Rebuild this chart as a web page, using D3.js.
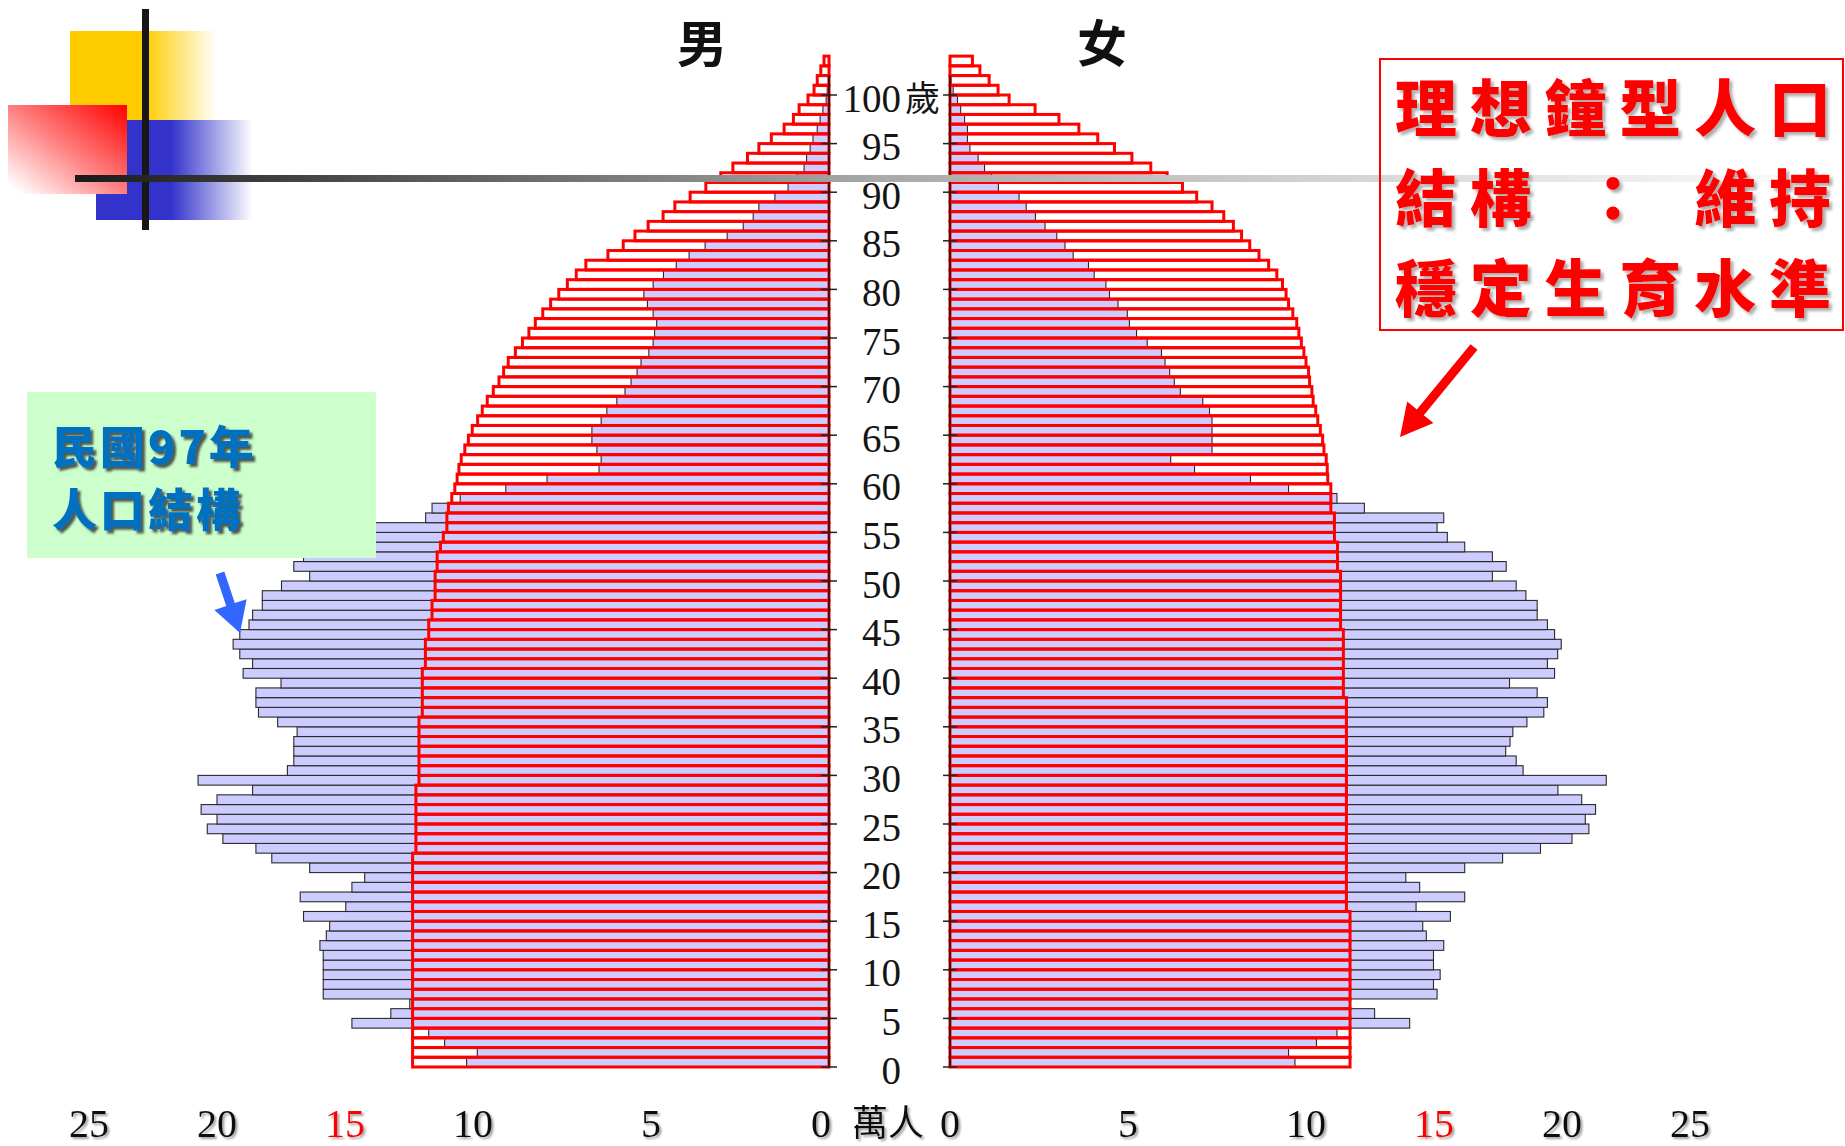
<!DOCTYPE html>
<html>
<head>
<meta charset="utf-8">
<script src="https://cdn.jsdelivr.net/npm/d3@7"></script>
<style>
  html, body { margin: 0; padding: 0; background: #ffffff; }
  svg { display: block; }
</style>
</head>
<body>
<svg id="chart" width="1845" height="1146"></svg>
<script>
// Single-year age groups, 0 .. 103
const ages = d3.range(0, 104);

// 民國97年 population by single year of age (萬人)
const maleActual = [
  10.25, 9.88, 11.11, 11.73, 14.73, 13.21, 12.47, 15.85, 15.85, 15.85,
  15.85, 15.85, 15.98, 15.73, 15.60, 16.62, 14.97, 16.75, 14.73, 14.23,
  16.38, 17.86, 18.48, 19.77, 20.38, 20.00, 20.62, 20.00, 18.61, 20.74,
  17.25, 17.00, 17.00, 17.00, 16.87, 17.63, 18.38, 18.48, 18.48, 17.50,
  18.98, 18.61, 19.11, 19.37, 19.11, 18.75, 18.61, 18.23, 18.23, 17.48,
  16.38, 17.00, 16.62, 15.36, 14.73, 14.37, 11.85, 11.60, 10.50, 9.08,
  7.92, 6.46, 6.40, 6.52, 6.66, 6.66, 6.40, 6.24, 5.96, 5.73,
  5.56, 5.39, 5.28, 5.06, 4.94, 4.90, 4.84, 4.94, 5.10, 5.20,
  4.94, 4.65, 4.29, 3.93, 3.48, 2.86, 2.41, 2.13, 1.97, 1.52,
  1.15, 0.89, 0.70, 0.63, 0.53, 0.45, 0.33, 0.25, 0.17, 0.08,
  0.05, 0.02, 0.01, 0
];
const femaleActual = [
  9.69, 9.51, 10.41, 11.21, 14.05, 12.68, 11.72, 15.12, 14.98, 15.24,
  14.98, 14.98, 15.38, 14.70, 14.56, 15.64, 14.30, 16.20, 14.44, 13.90,
  16.20, 17.68, 19.16, 20.39, 21.05, 20.91, 21.31, 20.77, 19.84, 21.73,
  18.48, 18.21, 17.80, 17.97, 18.08, 18.63, 19.29, 19.43, 19.03, 17.95,
  19.71, 19.43, 19.83, 19.97, 19.71, 19.43, 19.03, 19.03, 18.59, 18.21,
  17.28, 17.82, 17.28, 16.20, 15.52, 15.12, 15.38, 12.28, 11.21, 9.51,
  8.44, 6.87, 6.20, 7.36, 7.36, 7.36, 7.36, 7.29, 7.10, 6.47,
  6.30, 6.17, 6.04, 5.94, 5.54, 5.24, 5.04, 4.98, 4.72, 4.48,
  4.38, 4.05, 3.89, 3.46, 3.23, 3.00, 2.67, 2.40, 2.14, 1.94,
  1.36, 1.17, 0.97, 0.79, 0.56, 0.49, 0.49, 0.41, 0.30, 0.21,
  0.09, 0.03, 0.01, 0
];

// Ideal bell-shaped (stationary) population by single year of age (萬人)
const maleIdeal = [
  12.36, 12.36, 12.36, 12.36, 12.36, 12.36, 12.36, 12.36, 12.36, 12.36,
  12.36, 12.36, 12.36, 12.36, 12.36, 12.36, 12.36, 12.36, 12.36, 12.36,
  12.36, 12.36, 12.23, 12.23, 12.23, 12.23, 12.23, 12.23, 12.23, 12.11,
  12.11, 12.11, 12.11, 12.11, 12.11, 12.11, 11.98, 11.98, 11.98, 11.98,
  11.98, 11.86, 11.86, 11.86, 11.73, 11.73, 11.60, 11.60, 11.48, 11.48,
  11.48, 11.40, 11.40, 11.27, 11.16, 11.02, 11.02, 10.96, 10.83, 10.71,
  10.62, 10.55, 10.46, 10.32, 10.18, 10.03, 9.87, 9.74, 9.60, 9.43,
  9.27, 9.14, 9.01, 8.81, 8.61, 8.43, 8.25, 8.04, 7.82, 7.59,
  7.35, 7.10, 6.83, 6.21, 5.78, 5.45, 5.08, 4.66, 4.33, 3.90,
  3.46, 3.04, 2.70, 2.29, 1.97, 1.62, 1.26, 1.00, 0.84, 0.59,
  0.42, 0.33, 0.23, 0.14
];
const femaleIdeal = [
  11.72, 11.72, 11.72, 11.72, 11.72, 11.72, 11.72, 11.72, 11.72, 11.72,
  11.72, 11.72, 11.72, 11.72, 11.72, 11.72, 11.58, 11.58, 11.58, 11.58,
  11.58, 11.58, 11.58, 11.58, 11.58, 11.58, 11.58, 11.58, 11.58, 11.58,
  11.58, 11.58, 11.58, 11.58, 11.58, 11.58, 11.58, 11.58, 11.46, 11.46,
  11.46, 11.46, 11.46, 11.46, 11.46, 11.35, 11.35, 11.35, 11.35, 11.35,
  11.35, 11.23, 11.23, 11.23, 11.11, 11.11, 11.11, 10.97, 10.97, 10.97,
  10.85, 10.83, 10.79, 10.70, 10.65, 10.56, 10.46, 10.38, 10.28, 10.23,
  10.14, 10.10, 10.00, 9.94, 9.87, 9.80, 9.74, 9.63, 9.51, 9.44,
  9.34, 9.18, 8.95, 8.68, 8.42, 8.19, 7.96, 7.69, 7.36, 6.93,
  6.53, 6.10, 5.64, 5.11, 4.62, 4.15, 3.62, 3.06, 2.39, 1.66,
  1.35, 1.10, 0.84, 0.63
];

// Axis labels
const ageTicks = d3.range(0, 101, 5);
const popTicks = [25, 20, 15, 10, 5, 0];
const popHighlight = 15;
const unitLabel = "萬人";
const ageUnit = "歲";
const sexLabels = ["男", "女"];
const noteLines = ["理想鐘型人口", "結構：維持", "穩定生育水準"];
const yearLines = ["民國97年", "人口結構"];

// ---------- scales ----------
const yAge = d3.scaleLinear().domain([0, 104]).range([1067, 1067 - 104 * 9.72]);
const xMale = d3.scaleLinear().domain([0, 10, 25]).range([829, 473, 89]);
const xFemale = d3.scaleLinear().domain([0, 10, 25]).range([950, 1306, 1690]);

const svg = d3.select("#chart");
const defs = svg.append("defs");

function gradient(id, x1, y1, x2, y2, stops) {
  const g = defs.append("linearGradient").attr("id", id)
    .attr("x1", x1).attr("y1", y1).attr("x2", x2).attr("y2", y2);
  stops.forEach(s => g.append("stop").attr("offset", s[0])
    .attr("stop-color", s[1]).attr("stop-opacity", s[2] === undefined ? 1 : s[2]));
}
gradient("gYellow", 0, 0, 1, 0, [[0, "#FFCC00"], [0.5, "#FFCC00"], [0.98, "#FFCC00", 0]]);
gradient("gBlue", 0, 0, 1, 0, [[0, "#3333CC"], [0.48, "#3333CC"], [1, "#3333CC", 0]]);
gradient("gRed", 1, 0, 0, 1, [[0, "#FF0000"], [0.5, "#FF8080"], [0.95, "#FFFFFF"]]);
gradient("gRule", 0, 0, 1, 0, [[0, "#1a1a1a"], [0.18, "#555555"], [0.35, "#888888"],
  [0.45, "#a8a8a8"], [0.74, "#d8d8d8"], [0.9, "#f0f0f0"], [1, "#ffffff"]]);

function shadow(id, dx, dy, blur, color) {
  const f = defs.append("filter").attr("id", id)
    .attr("x", "-20%").attr("y", "-20%").attr("width", "150%").attr("height", "150%");
  f.append("feDropShadow").attr("dx", dx).attr("dy", dy)
    .attr("stdDeviation", blur).attr("flood-color", color).attr("flood-opacity", 0.8);
}
shadow("shGray", 2, 2, 1, "#8a8a8a");
shadow("shRed", 3, 3, 1.5, "#9a9a9a");
shadow("shDark", 3, 3, 1.2, "#333333");

// ---------- decorative corner ----------
const deco = svg.append("g");
deco.append("rect").attr("x", 70).attr("y", 31).attr("width", 150).attr("height", 89).attr("fill", "url(#gYellow)");
deco.append("rect").attr("x", 96).attr("y", 120).attr("width", 157).attr("height", 100).attr("fill", "url(#gBlue)");
deco.append("rect").attr("x", 8).attr("y", 105).attr("width", 119).attr("height", 89).attr("fill", "url(#gRed)");
deco.append("rect").attr("x", 142).attr("y", 9).attr("width", 7).attr("height", 221).attr("fill", "#171717");

// ---------- bars ----------
const bandH = yAge(0) - yAge(1);
const chart = svg.append("g");

function barRect(sel, scale, values) {
  sel.attr("x", a => Math.min(scale(0), scale(values[a])))
     .attr("y", a => yAge(a + 1))
     .attr("width", a => Math.abs(scale(values[a]) - scale(0)))
     .attr("height", bandH);
}

chart.append("g").selectAll("rect").data(ages).join("rect")
  .call(barRect, xMale, maleActual)
  .attr("fill", "#CCCCFF").attr("stroke", "#2a2a2a").attr("stroke-width", 1.1);
chart.append("g").selectAll("rect").data(ages).join("rect")
  .call(barRect, xFemale, femaleActual)
  .attr("fill", "#CCCCFF").attr("stroke", "#2a2a2a").attr("stroke-width", 1.1);

// long horizontal rule of the corner ornament
svg.append("rect").attr("x", 75).attr("y", 175).attr("width", 1770).attr("height", 7).attr("fill", "url(#gRule)");

chart.append("g").selectAll("rect").data(ages).join("rect")
  .call(barRect, xMale, maleIdeal)
  .attr("fill", "none").attr("stroke", "#FF0000").attr("stroke-width", 3);
chart.append("g").selectAll("rect").data(ages).join("rect")
  .call(barRect, xFemale, femaleIdeal)
  .attr("fill", "none").attr("stroke", "#FF0000").attr("stroke-width", 3);

// axis lines and age ticks
[xMale, xFemale].forEach(s => {
  chart.append("line").attr("x1", s(0)).attr("x2", s(0))
    .attr("y1", yAge(102)).attr("y2", yAge(0))
    .attr("stroke", "#111").attr("stroke-width", 1.5);
});
chart.append("g").selectAll("line").data(ageTicks).join("line")
  .attr("x1", xMale(0) - 8).attr("x2", xMale(0) + 8)
  .attr("y1", d => yAge(d)).attr("y2", d => yAge(d))
  .attr("stroke", "#222").attr("stroke-width", 1.5);
chart.append("g").selectAll("line").data(ageTicks).join("line")
  .attr("x1", xFemale(0) - 7).attr("x2", xFemale(0) + 7)
  .attr("y1", d => yAge(d)).attr("y2", d => yAge(d))
  .attr("stroke", "#222").attr("stroke-width", 1.5);

// age labels between the two halves (right-aligned numbers)
const labelRight = 901;
const ageLabels = svg.append("g");
ageLabels.selectAll("text").data(ageTicks).join("text")
  .attr("x", labelRight)
  .attr("y", d => yAge(d) + 16.5)
  .attr("text-anchor", "end")
  .attr("font-family", "'Liberation Serif', 'Times New Roman', serif")
  .attr("font-size", 39).attr("fill", "#151515")
  .text(d => d);
ageLabels.append("text")
  .attr("x", labelRight + 4).attr("y", yAge(100) + 16)
  .attr("font-family", "'Noto Sans CJK TC', sans-serif")
  .attr("font-size", 35).attr("fill", "#151515")
  .text(ageUnit);

// population labels along the bottom
const botY = 1137;
const popFont = "'Liberation Serif', 'Times New Roman', serif";
svg.append("g").selectAll("text").data(popTicks).join("text")
  .attr("x", d => d === 0 ? xMale(d) + 2 : xMale(d))
  .attr("y", botY)
  .attr("text-anchor", d => d === 0 ? "end" : "middle")
  .attr("font-family", popFont).attr("font-size", 40)
  .attr("fill", d => d === popHighlight ? "#FF0000" : "#111")
  .attr("filter", "url(#shGray)")
  .text(d => d);
svg.append("g").selectAll("text").data(popTicks).join("text")
  .attr("x", d => xFemale(d))
  .attr("y", botY)
  .attr("text-anchor", "middle")
  .attr("font-family", popFont).attr("font-size", 40)
  .attr("fill", d => d === popHighlight ? "#FF0000" : "#111")
  .attr("filter", "url(#shGray)")
  .text(d => d);
svg.append("text").attr("x", 888).attr("y", botY - 1)
  .attr("text-anchor", "middle")
  .attr("font-family", "'Noto Sans CJK TC', sans-serif").attr("font-size", 36)
  .attr("fill", "#111").attr("filter", "url(#shGray)")
  .text(unitLabel);

// sex headings
svg.append("g").selectAll("text").data(sexLabels).join("text")
  .attr("x", (d, i) => i === 0 ? 702 : 1102)
  .attr("y", 40)
  .attr("text-anchor", "middle").attr("dominant-baseline", "central")
  .attr("font-family", "'Noto Sans CJK TC', sans-serif").attr("font-weight", 700)
  .attr("font-size", 50).attr("fill", "#111")
  .text(d => d);

// ---------- annotation: ideal structure ----------
svg.append("rect").attr("x", 1380).attr("y", 59).attr("width", 463).attr("height", 271)
  .attr("fill", "none").attr("stroke", "#FF0000").attr("stroke-width", 2);
const slot = i => 1426 + i * 74.8;
const noteSlots = [d3.range(6), [0, 1, 2.5, 4, 5], d3.range(6)];
svg.append("g").selectAll("text").data(noteLines).join("text")
  .attr("x", (d, i) => noteSlots[i].map(slot).join(" "))
  .attr("y", (d, i) => 105 + i * 90)
  .attr("text-anchor", "middle").attr("dominant-baseline", "central")
  .attr("font-family", "'Noto Sans CJK TC', sans-serif").attr("font-weight", 900)
  .attr("font-size", 62).attr("fill", "#FF0000").attr("filter", "url(#shRed)")
  .text(d => d);

// arrows
function arrow(x1, y1, x2, y2, shaftW, headW, headL, color) {
  const ang = Math.atan2(y2 - y1, x2 - x1);
  const len = Math.hypot(x2 - x1, y2 - y1);
  const p = [[0, -shaftW / 2], [len - headL, -shaftW / 2], [len - headL, -headW / 2], [len, 0],
             [len - headL, headW / 2], [len - headL, shaftW / 2], [0, shaftW / 2]];
  svg.append("polygon")
    .attr("points", p.map(q => q.join(",")).join(" "))
    .attr("transform", `translate(${x1},${y1}) rotate(${ang * 180 / Math.PI})`)
    .attr("fill", color);
}
arrow(1474, 347, 1400, 437, 9, 34, 32, "#FF0000");

// ---------- annotation: 民國97年 ----------
svg.append("rect").attr("x", 27).attr("y", 392).attr("width", 349).attr("height", 166).attr("fill", "#CCFFCC");
svg.append("g").selectAll("text").data(yearLines).join("text")
  .attr("x", 52)
  .attr("y", (d, i) => 444 + i * 63)
  .attr("dominant-baseline", "central")
  .attr("font-family", "'Noto Sans CJK TC', sans-serif").attr("font-weight", 900)
  .attr("font-size", 45).attr("letter-spacing", 3)
  .attr("fill", "#0070C0").attr("filter", "url(#shDark)")
  .text(d => d);
arrow(220, 573, 240, 633, 9, 34, 30, "#3366FF");
</script>
</body>
</html>
